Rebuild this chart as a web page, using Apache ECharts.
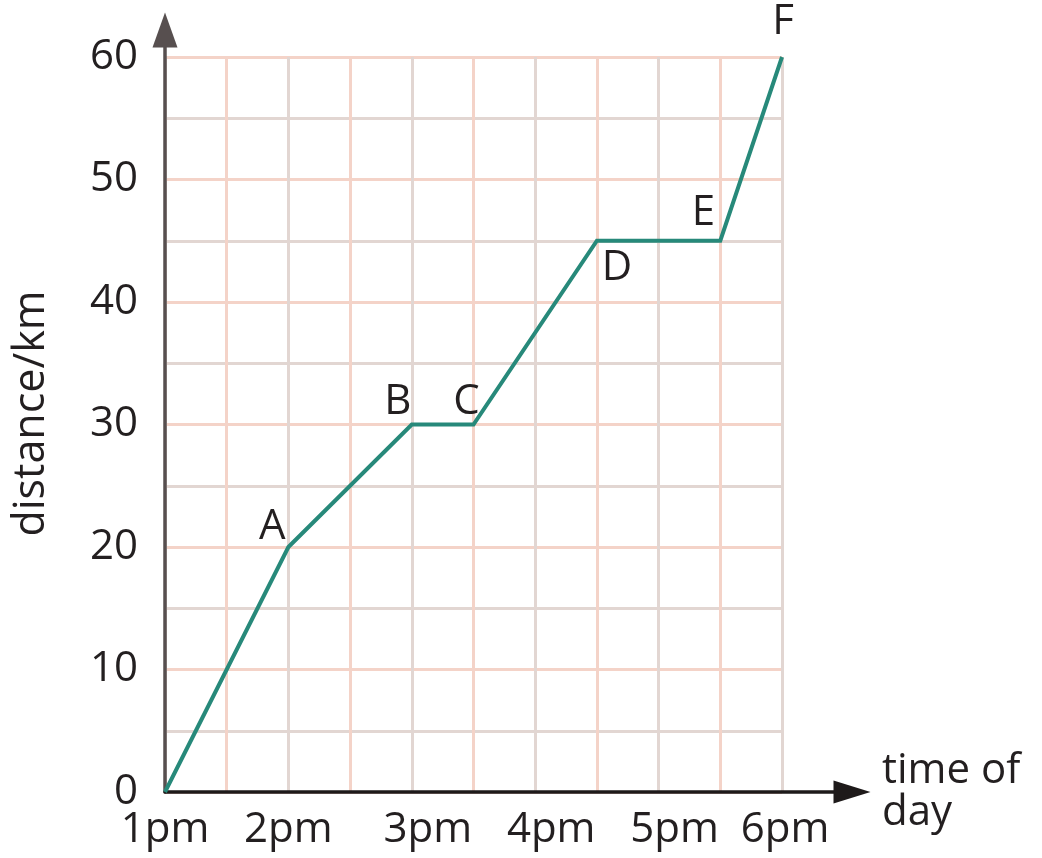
<!DOCTYPE html>
<html>
<head>
<meta charset="utf-8">
<script src="https://cdn.jsdelivr.net/npm/echarts@6/dist/echarts.min.js"></script>
<style>
html,body{margin:0;padding:0;background:#fff;}
#chart{width:1042px;height:858px;}
</style>
</head>
<body>
<div id="chart"></div>
<script>
// ---- data ----
const timesHours = [13, 14, 15, 15.5, 16.5, 17.5, 18];
const distancesKm = [0, 20, 30, 30, 45, 45, 60];
const pointNames = ['', 'A', 'B', 'C', 'D', 'E', 'F'];
const xTickHours = [13, 14, 15, 16, 17, 18];
const xTickLabels = ['1pm', '2pm', '3pm', '4pm', '5pm', '6pm'];
const yTickLabels = ['0', '10', '20', '30', '40', '50', '60'];
const yAxisTitle = 'distance/km';
const xAxisTitle = 'time of\nday';

// ---- styling ----
const FONT = '"Open Sans", "Noto Sans", sans-serif';
const TXT = '#231f20';
const FS = 42;
const LINE = '#27897a';

const labelOffsets = { A: [-16, -20], B: [-14, -22], C: [-7, -22], D: [20, 27], E: [-17, -28], F: [1, -35] };
const xLabelShift = { '3pm': 's', '4pm': 's', '5pm': 's', '6pm': 't' };

const seriesData = timesHours.map((t, i) => ({ value: [t, distancesKm[i]], name: pointNames[i] }));
const labelData = seriesData
  .filter(d => d.name)
  .map(d => ({ value: d.value, name: d.name, label: { offset: labelOffsets[d.name] } }));

const baseText = { fontFamily: FONT, fontSize: FS, color: TXT };

const chart = echarts.init(document.getElementById('chart'), null, { renderer: 'canvas' });
chart.setOption({
  backgroundColor: '#ffffff',
  animation: false,
  grid: [
    { left: 165, right: 260, top: 57, bottom: 66, containLabel: false, outerBoundsMode: 'none' },
    { left: 165, right: 190, top: 30, bottom: 66, containLabel: false, outerBoundsMode: 'none' }
  ],
  xAxis: [
    {
      type: 'value', gridIndex: 0, min: 13, max: 18, interval: 0.5,
      axisLine: { show: false },
      axisTick: { show: false },
      splitLine: { show: true, lineStyle: { width: 3, color: ['#e2d6d2', '#f4d3c8'] } },
      axisLabel: {
        margin: 16,
        ...baseText,
        lineHeight: 44,
        formatter: function (v) {
          const idx = xTickHours.indexOf(v);
          if (idx < 0) return '';
          const lab = xTickLabels[idx];
          const st = xLabelShift[lab] || 'n';
          return '{' + st + '|' + lab + '}';
        },
        rich: {
          n: { ...baseText, lineHeight: 44 },
          s: { ...baseText, lineHeight: 44, padding: [0, 0, 0, 32] },
          t: { ...baseText, lineHeight: 44, padding: [0, 0, 0, 6] }
        }
      }
    },
    {
      type: 'value', gridIndex: 1, min: 0, max: 1, z: 5,
      axisLine: { show: true, symbol: ['none', 'triangle'], symbolSize: [23, 37], lineStyle: { color: '#1e1a1a', width: 3.5 } },
      axisTick: { show: false }, axisLabel: { show: false }, splitLine: { show: false },
      name: xAxisTitle, nameLocation: 'end', nameGap: 30,
      nameTextStyle: { ...baseText, align: 'left', verticalAlign: 'middle', lineHeight: 42 }
    }
  ],
  yAxis: [
    {
      type: 'value', gridIndex: 0, min: 0, max: 60, interval: 5,
      axisLine: { show: false },
      axisTick: { show: false },
      splitLine: { show: true, lineStyle: { width: 3, color: ['#f4d3c8', '#e2d6d2'] } },
      axisLabel: {
        margin: 27,
        ...baseText,
        formatter: function (v) {
          const s = String(v);
          return yTickLabels.indexOf(s) >= 0 ? s : '';
        }
      },
      name: yAxisTitle, nameLocation: 'middle', nameRotate: 90, nameGap: 112,
      nameTextStyle: { ...baseText, fontSize: 43, padding: [0, 0, 0, 22] }
    },
    {
      type: 'value', gridIndex: 1, min: 0, max: 1, z: 5,
      axisLine: { show: true, symbol: ['none', 'triangle'], symbolSize: [25, 35], lineStyle: { color: '#574f4f', width: 3.5 } },
      axisTick: { show: false }, axisLabel: { show: false }, splitLine: { show: false }
    }
  ],
  series: [
    {
      type: 'line', xAxisIndex: 0, yAxisIndex: 0, z: 6,
      data: seriesData,
      symbol: 'none',
      lineStyle: { color: LINE, width: 4, join: 'miter' },
      emphasis: { disabled: true },
      silent: true
    },
    {
      type: 'scatter', xAxisIndex: 0, yAxisIndex: 0, z: 7,
      data: labelData,
      symbol: 'circle',
      symbolSize: 2,
      itemStyle: { color: 'rgba(0,0,0,0)', opacity: 1 },
      label: {
        show: true,
        position: 'inside',
        formatter: '{b}',
        opacity: 1,
        textBorderWidth: 0,
        ...baseText
      },
      emphasis: { disabled: true },
      silent: true
    }
  ]
});
</script>
</body>
</html>
